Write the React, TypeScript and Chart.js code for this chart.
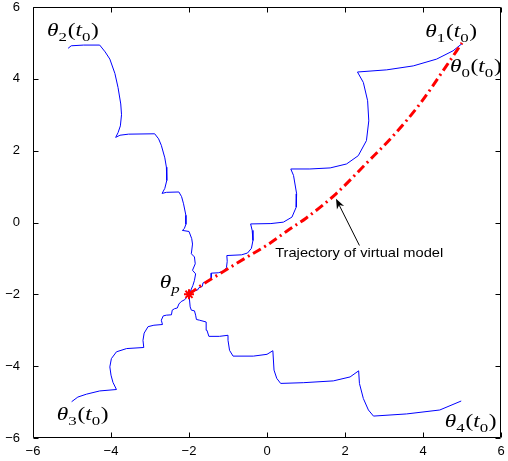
import React, { useEffect, useRef } from 'react';
import { Chart, registerables } from 'chart.js';

Chart.register(...registerables);

// ---- axis ticks ----
const xTicks = [-6, -4, -2, 0, 2, 4, 6];
const yTicks = [-6, -4, -2, 0, 2, 4, 6];

// ---- agent trajectories (blue) ----
const theta1Path: [number, number][] = [
  [5.0, 4.98], [4.77, 4.78], [4.35, 4.55], [3.75, 4.36], [3.07, 4.25], [2.32, 4.19],
  [2.47, 3.9], [2.58, 3.39], [2.61, 2.83], [2.55, 2.28], [2.34, 1.86], [2.04, 1.63], [1.62, 1.52], [1.1, 1.49], [0.61, 1.49],
  [0.68, 1.31], [0.76, 0.8], [0.75, 0.43], [0.64, 0.15], [0.42, 0.01], [0.1, -0.03], [-0.42, -0.04],
  [-0.38, -0.22], [-0.36, -0.5], [-0.4, -0.72], [-0.5, -0.85], [-0.65, -0.9], [-1.03, -0.92],
  [-1.02, -1.08], [-1.04, -1.26], [-1.12, -1.36], [-1.25, -1.4], [-1.43, -1.41],
  [-1.43, -1.56], [-1.5, -1.64], [-1.64, -1.68], [-1.66, -1.78], [-1.75, -1.82], [-1.78, -1.88], [-1.88, -1.91], [-2.0, -2.0],
];

const theta2Path: [number, number][] = [
  [-5.1, 4.85], [-5.02, 4.92], [-4.7, 4.94], [-4.29, 4.94],
  [-4.15, 4.75], [-4.03, 4.55], [-3.9, 4.15], [-3.82, 3.76], [-3.75, 3.3], [-3.73, 3.0], [-3.76, 2.69], [-3.82, 2.5], [-3.88, 2.37],
  [-3.77, 2.43], [-3.55, 2.46], [-2.88, 2.47],
  [-2.78, 2.33], [-2.71, 2.15], [-2.62, 1.8], [-2.58, 1.54], [-2.57, 1.17], [-2.62, 0.95], [-2.69, 0.81],
  [-2.58, 0.84], [-2.26, 0.85],
  [-2.19, 0.72], [-2.14, 0.52], [-2.08, 0.2], [-2.08, -0.05], [-2.12, -0.17], [-2.17, -0.22],
  [-2.0, -0.25], [-1.93, -0.45], [-1.91, -0.6], [-1.94, -0.87],
  [-1.86, -0.96], [-1.84, -1.15], [-1.91, -1.33],
  [-1.83, -1.43], [-1.86, -1.61], [-1.9, -1.75], [-1.95, -1.88], [-2.0, -2.0],
];

const theta3Path: [number, number][] = [
  [-5.01, -4.99], [-4.85, -4.86], [-4.63, -4.78], [-4.29, -4.69], [-3.86, -4.65],
  [-3.95, -4.45], [-4.0, -4.25], [-4.03, -4.02], [-3.99, -3.79], [-3.86, -3.6], [-3.6, -3.51], [-3.16, -3.48],
  [-3.18, -3.28], [-3.15, -3.08], [-3.05, -2.9], [-2.9, -2.86], [-2.68, -2.84],
  [-2.71, -2.72], [-2.66, -2.6], [-2.58, -2.58], [-2.45, -2.57],
  [-2.43, -2.44], [-2.37, -2.4], [-2.3, -2.38], [-2.26, -2.27], [-2.2, -2.2], [-2.11, -2.15], [-2.0, -2.0],
];

const theta4Path: [number, number][] = [
  [4.98, -4.97], [4.43, -5.22], [3.58, -5.33], [2.73, -5.39],
  [2.6, -5.22], [2.47, -4.9], [2.37, -4.48], [2.35, -4.13],
  [2.13, -4.3], [1.7, -4.41], [0.93, -4.46], [0.35, -4.48],
  [0.25, -4.34], [0.18, -4.11], [0.15, -3.57],
  [0.0, -3.67], [-0.35, -3.72], [-0.87, -3.72],
  [-0.96, -3.56], [-1.0, -3.28], [-1.0, -3.14],
  [-1.22, -3.17], [-1.49, -3.17],
  [-1.54, -3.0], [-1.56, -2.77],
  [-1.73, -2.72], [-1.81, -2.7], [-1.83, -2.58], [-1.86, -2.46],
  [-1.94, -2.44], [-1.97, -2.35], [-2.0, -2.0],
];

// ---- virtual model trajectory (red dash-dot) ----
const virtualPath: [number, number][] = [
  [-2.0, -2.0], [-1.7, -1.76], [-1.2, -1.42], [-0.6, -1.02], [0.0, -0.63], [0.55, -0.21], [1.0, 0.12],
  [1.77, 0.8], [2.55, 1.65], [3.24, 2.42], [3.92, 3.3], [4.6, 4.36], [5.0, 5.0],
];

// ---- consensus point ----
const thetaP: [number, number][] = [[-2.0, -2.0]];

// ---- annotation arrow (data coordinates) ----
const arrowFrom: [number, number] = [2.37, -0.64];
const arrowTo: [number, number] = [1.77, 0.66];
const arrowText = 'Trajectory of virtual model';
const arrowTextAt: [number, number] = [0.21, -0.96];

// ---- math labels: symbol subscript, whether "(t0)" follows, anchor (left, baseline) ----
const mathLabels: { sub: string; arg: boolean; at: [number, number] }[] = [
  { sub: '1', arg: true, at: [4.06, 5.17] },
  { sub: '0', arg: true, at: [4.69, 4.19] },
  { sub: '2', arg: true, at: [-5.64, 5.19] },
  { sub: '3', arg: true, at: [-5.39, -5.5] },
  { sub: '4', arg: true, at: [4.56, -5.68] },
  { sub: 'p', arg: false, at: [-2.75, -1.83] },
];

const toXY = (p: [number, number][]) => p.map(([x, y]) => ({ x, y }));

const SERIF = '"Liberation Serif", "DejaVu Serif", serif';
const SANS = '"Liberation Sans", Arial, sans-serif';

function drawMath(ctx: CanvasRenderingContext2D, px: number, py: number, sub: string, arg: boolean) {
  const big = 18;
  const small = 13;
  const shift = 5;
  const parts: { t: string; it: boolean; sub: boolean }[] = [
    { t: 'θ', it: true, sub: false },
    { t: sub, it: sub === 'p', sub: true },
  ];
  if (arg) {
    parts.push({ t: '(', it: false, sub: false });
    parts.push({ t: 't', it: true, sub: false });
    parts.push({ t: '0', it: false, sub: true });
    parts.push({ t: ')', it: false, sub: false });
  }
  ctx.save();
  ctx.translate(px, py);
  ctx.scale(1.3, 1);
  ctx.fillStyle = '#000';
  ctx.textBaseline = 'alphabetic';
  ctx.textAlign = 'left';
  let cx = 0;
  for (const p of parts) {
    ctx.font = `${p.it ? 'italic ' : ''}${p.sub ? small : big}px ${SERIF}`;
    ctx.fillText(p.t, cx, p.sub ? shift : 0);
    cx += ctx.measureText(p.t).width + (p.sub ? 0.5 : 0);
  }
  ctx.restore();
}

const framePlugin = {
  id: 'frame',
  afterDraw(chart: any) {
    const { ctx, chartArea: a, scales } = chart;
    const xs = scales.x;
    const ys = scales.y;
    ctx.save();
    ctx.strokeStyle = '#000';
    ctx.lineWidth = 1;
    const L = Math.round(a.left) + 0.5;
    const R = Math.round(a.right) - 0.5;
    const T = Math.round(a.top) + 0.5;
    const B = Math.round(a.bottom) - 0.5;
    ctx.beginPath();
    ctx.rect(L, T, R - L, B - T);
    ctx.stroke();
    const tl = 5;
    ctx.beginPath();
    for (const v of xTicks) {
      const p = Math.round(xs.getPixelForValue(v)) + 0.5;
      ctx.moveTo(p, B); ctx.lineTo(p, B - tl);
      ctx.moveTo(p, T); ctx.lineTo(p, T + tl);
    }
    for (const v of yTicks) {
      const p = Math.round(ys.getPixelForValue(v)) + 0.5;
      ctx.moveTo(L, p); ctx.lineTo(L + tl, p);
      ctx.moveTo(R, p); ctx.lineTo(R - tl, p);
    }
    ctx.stroke();

    // arrow
    const x0 = xs.getPixelForValue(arrowFrom[0]);
    const y0 = ys.getPixelForValue(arrowFrom[1]);
    const x1 = xs.getPixelForValue(arrowTo[0]);
    const y1 = ys.getPixelForValue(arrowTo[1]);
    const ang = Math.atan2(y1 - y0, x1 - x0);
    const hl = 10, hw = 4;
    ctx.beginPath();
    ctx.moveTo(x0, y0);
    ctx.lineTo(x1 - Math.cos(ang) * hl * 0.7, y1 - Math.sin(ang) * hl * 0.7);
    ctx.stroke();
    ctx.fillStyle = '#000';
    ctx.beginPath();
    ctx.moveTo(x1, y1);
    ctx.lineTo(x1 - Math.cos(ang) * hl - Math.sin(ang) * hw, y1 - Math.sin(ang) * hl + Math.cos(ang) * hw);
    ctx.lineTo(x1 - Math.cos(ang) * hl * 0.7, y1 - Math.sin(ang) * hl * 0.7);
    ctx.lineTo(x1 - Math.cos(ang) * hl + Math.sin(ang) * hw, y1 - Math.sin(ang) * hl - Math.cos(ang) * hw);
    ctx.closePath();
    ctx.fill();

    // arrow text, stretched to the reference width
    ctx.save();
    ctx.font = `13px ${SANS}`;
    ctx.textAlign = 'left';
    ctx.textBaseline = 'alphabetic';
    const tw = ctx.measureText(arrowText).width;
    ctx.translate(xs.getPixelForValue(arrowTextAt[0]), ys.getPixelForValue(arrowTextAt[1]));
    ctx.scale(168 / tw, 1);
    ctx.fillText(arrowText, 0, 0);
    ctx.restore();

    for (const m of mathLabels) {
      drawMath(ctx, xs.getPixelForValue(m.at[0]), ys.getPixelForValue(m.at[1]), m.sub, m.arg);
    }
    ctx.restore();
  },
};

const fmt = (v: any) => {
  const n = Number(v);
  return n < 0 ? '\u2212' + Math.abs(n) : String(n);
};

export default function App() {
  const ref = useRef<HTMLCanvasElement | null>(null);
  useEffect(() => {
    if (!ref.current) return;
    const blue = (pts: [number, number][]) => ({
      data: toXY(pts),
      borderColor: '#0000ff',
      borderWidth: 1,
      pointRadius: 0,
      tension: 0,
      fill: false,
      order: 3,
    });
    const chart = new Chart(ref.current, {
      type: 'line',
      data: {
        datasets: [
          {
            data: toXY(thetaP),
            borderColor: '#ff0000',
            backgroundColor: '#ff0000',
            pointStyle: 'star',
            pointRadius: 5,
            pointBorderWidth: 2,
            showLine: false,
            order: 0,
          } as any,
          {
            data: toXY(virtualPath),
            borderColor: '#ff0000',
            borderWidth: 3,
            borderDash: [9, 4, 2, 4],
            pointRadius: 0,
            cubicInterpolationMode: 'monotone',
            fill: false,
            order: 1,
          } as any,
          blue(theta1Path),
          blue(theta2Path),
          blue(theta3Path),
          blue(theta4Path),
        ],
      },
      options: {
        animation: false,
        responsive: false,
        maintainAspectRatio: false,
        layout: { padding: { top: 6, right: 6, left: 0, bottom: 0 } },
        plugins: { legend: { display: false }, tooltip: { enabled: false } },
        scales: {
          x: {
            type: 'linear',
            min: -6,
            max: 6,
            afterBuildTicks: (s: any) => { s.ticks = xTicks.map((v) => ({ value: v })); },
            afterFit: (s: any) => { s.height = 23; s.paddingLeft = 0; s.paddingRight = 0; s.paddingTop = 0; s.paddingBottom = 0; },
            grid: { display: false },
            border: { display: false },
            ticks: {
              padding: -2,
              color: '#000',
              font: { family: SANS, size: 13 },
              callback: fmt,
              maxRotation: 0,
              autoSkip: false,
            },
          },
          y: {
            type: 'linear',
            min: -6,
            max: 6,
            afterBuildTicks: (s: any) => { s.ticks = yTicks.map((v) => ({ value: v })); },
            afterFit: (s: any) => { s.width = 33; s.paddingLeft = 0; s.paddingRight = 0; s.paddingTop = 0; s.paddingBottom = 0; },
            grid: { display: false },
            border: { display: false },
            ticks: {
              padding: 5,
              color: '#000',
              font: { family: SANS, size: 13 },
              callback: fmt,
              autoSkip: false,
            },
          },
        },
      },
      plugins: [framePlugin],
    });
    return () => chart.destroy();
  }, []);
  return (
    <div style={{ position: 'absolute', left: 0, top: 0, width: 508, height: 461, background: '#fff' }}>
      <canvas ref={ref} width={508} height={461} style={{ display: 'block', width: 508, height: 461 }} />
    </div>
  );
}
